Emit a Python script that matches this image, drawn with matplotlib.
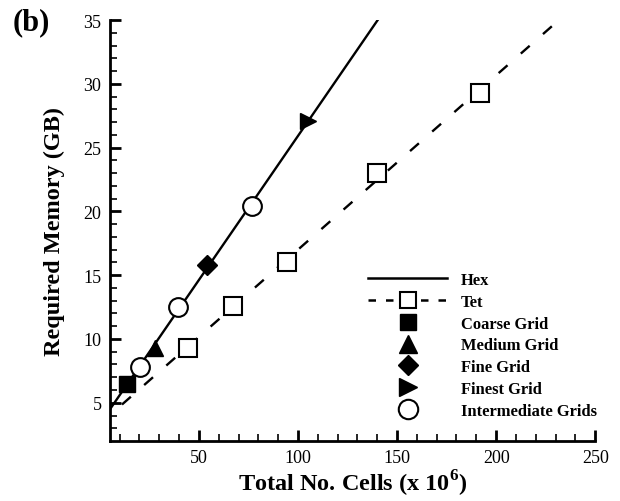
import matplotlib
matplotlib.use('Agg')
import matplotlib.pyplot as plt
from matplotlib.lines import Line2D
import numpy as np

plt.rcParams['font.family'] = ['Liberation Serif', 'DejaVu Serif']
plt.rcParams['mathtext.fontset'] = 'custom'
plt.rcParams['mathtext.rm'] = 'Liberation Serif'
plt.rcParams['mathtext.bf'] = 'Liberation Serif:bold'

# hex grids (cells in millions, memory in GB)
hex_cells = [13.6, 20.2, 27.8, 39.4, 54.0, 76.8, 105.0]
hex_mem = [6.5, 7.8, 9.3, 12.5, 15.8, 20.4, 27.1]
hex_grid = ['Coarse', 'Intermediate', 'Medium', 'Intermediate', 'Fine', 'Intermediate', 'Finest']

# tet grids
tet_cells = [44.4, 67.2, 94.4, 140.0, 192.0]
tet_mem = [9.3, 12.6, 16.0, 23.0, 29.3]

grid_markers = {'Coarse': 's', 'Medium': '^', 'Fine': 'D', 'Finest': '>', 'Intermediate': 'o'}
grid_sizes = {'Coarse': 11, 'Medium': 12, 'Fine': 10, 'Finest': 12, 'Intermediate': 13.5}

fig = plt.figure(figsize=(6.2, 5.02), dpi=100)
ax = fig.add_axes([0.177, 0.1195, 0.783, 0.8385])

# linear fits for the trend lines
xx = np.linspace(0, 260, 200)
p_hex = np.polyfit(hex_cells, hex_mem, 1)
p_tet = np.polyfit(tet_cells, tet_mem, 1)
ax.plot(xx, np.polyval(p_hex, xx), color='black', lw=1.7, zorder=2)
ax.plot(xx, np.polyval(p_tet, xx), color='black', lw=1.7, dashes=(5, 7.5), zorder=2)

ax.plot(tet_cells, tet_mem, linestyle='none', marker='s', ms=13, mfc='white',
        mec='black', mew=1.5, zorder=3)
for x, y, g in zip(hex_cells, hex_mem, hex_grid):
    if g == 'Intermediate':
        ax.plot(x, y, marker='o', ms=grid_sizes[g], mfc='white', mec='black', mew=1.5, zorder=3)
    else:
        ax.plot(x, y, marker=grid_markers[g], ms=grid_sizes[g], color='black', zorder=3)

ax.set_xlim(5, 250)
ax.set_ylim(2, 35)
ax.set_xticks([50, 100, 150, 200, 250])
ax.set_xticks(np.arange(10, 250, 10), minor=True)
ax.set_yticks([5, 10, 15, 20, 25, 30, 35])
ax.set_yticks(np.arange(3, 35, 1), minor=True)

for s in ['top', 'right']:
    ax.spines[s].set_visible(False)
for s in ['left', 'bottom']:
    ax.spines[s].set_linewidth(2)
ax.tick_params(which='major', direction='in', length=8, width=2, labelsize=13, pad=6)
ax.tick_params(which='minor', direction='in', length=5, width=1.2)

ax.set_xlabel(r'Total No. Cells (x 10$^\mathbf{6}$)', fontsize=17.5, fontweight='bold', labelpad=1)
ax.set_ylabel('Required Memory (GB)', fontsize=17.5, fontweight='bold', labelpad=13)
fig.text(0.021, 0.94, '(b)', fontsize=22, fontweight='bold')

handles = [
    Line2D([], [], color='black', lw=1.8),
    Line2D([], [], color='black', lw=1.8, dashes=(3, 4), marker='s', ms=12,
           mfc='white', mec='black', mew=1.5),
    Line2D([], [], ls='none', marker='s', ms=11.5, color='black'),
    Line2D([], [], ls='none', marker='^', ms=12.5, color='black'),
    Line2D([], [], ls='none', marker='D', ms=10.5, color='black'),
    Line2D([], [], ls='none', marker='>', ms=12.5, color='black'),
    Line2D([], [], ls='none', marker='o', ms=14, mfc='white', mec='black', mew=1.5),
]
labels = ['Hex', 'Tet', 'Coarse Grid', 'Medium Grid', 'Fine Grid', 'Finest Grid', 'Intermediate Grids']
ax.legend(handles, labels, loc='upper left', bbox_to_anchor=(0.5935, 0.456),
          bbox_transform=fig.transFigure, frameon=False, borderpad=0, borderaxespad=0,
          prop={'weight': 'bold', 'size': 11.9}, handlelength=4.8, labelspacing=0.35,
          handletextpad=0.8)

fig.savefig('out.png', dpi=100)
